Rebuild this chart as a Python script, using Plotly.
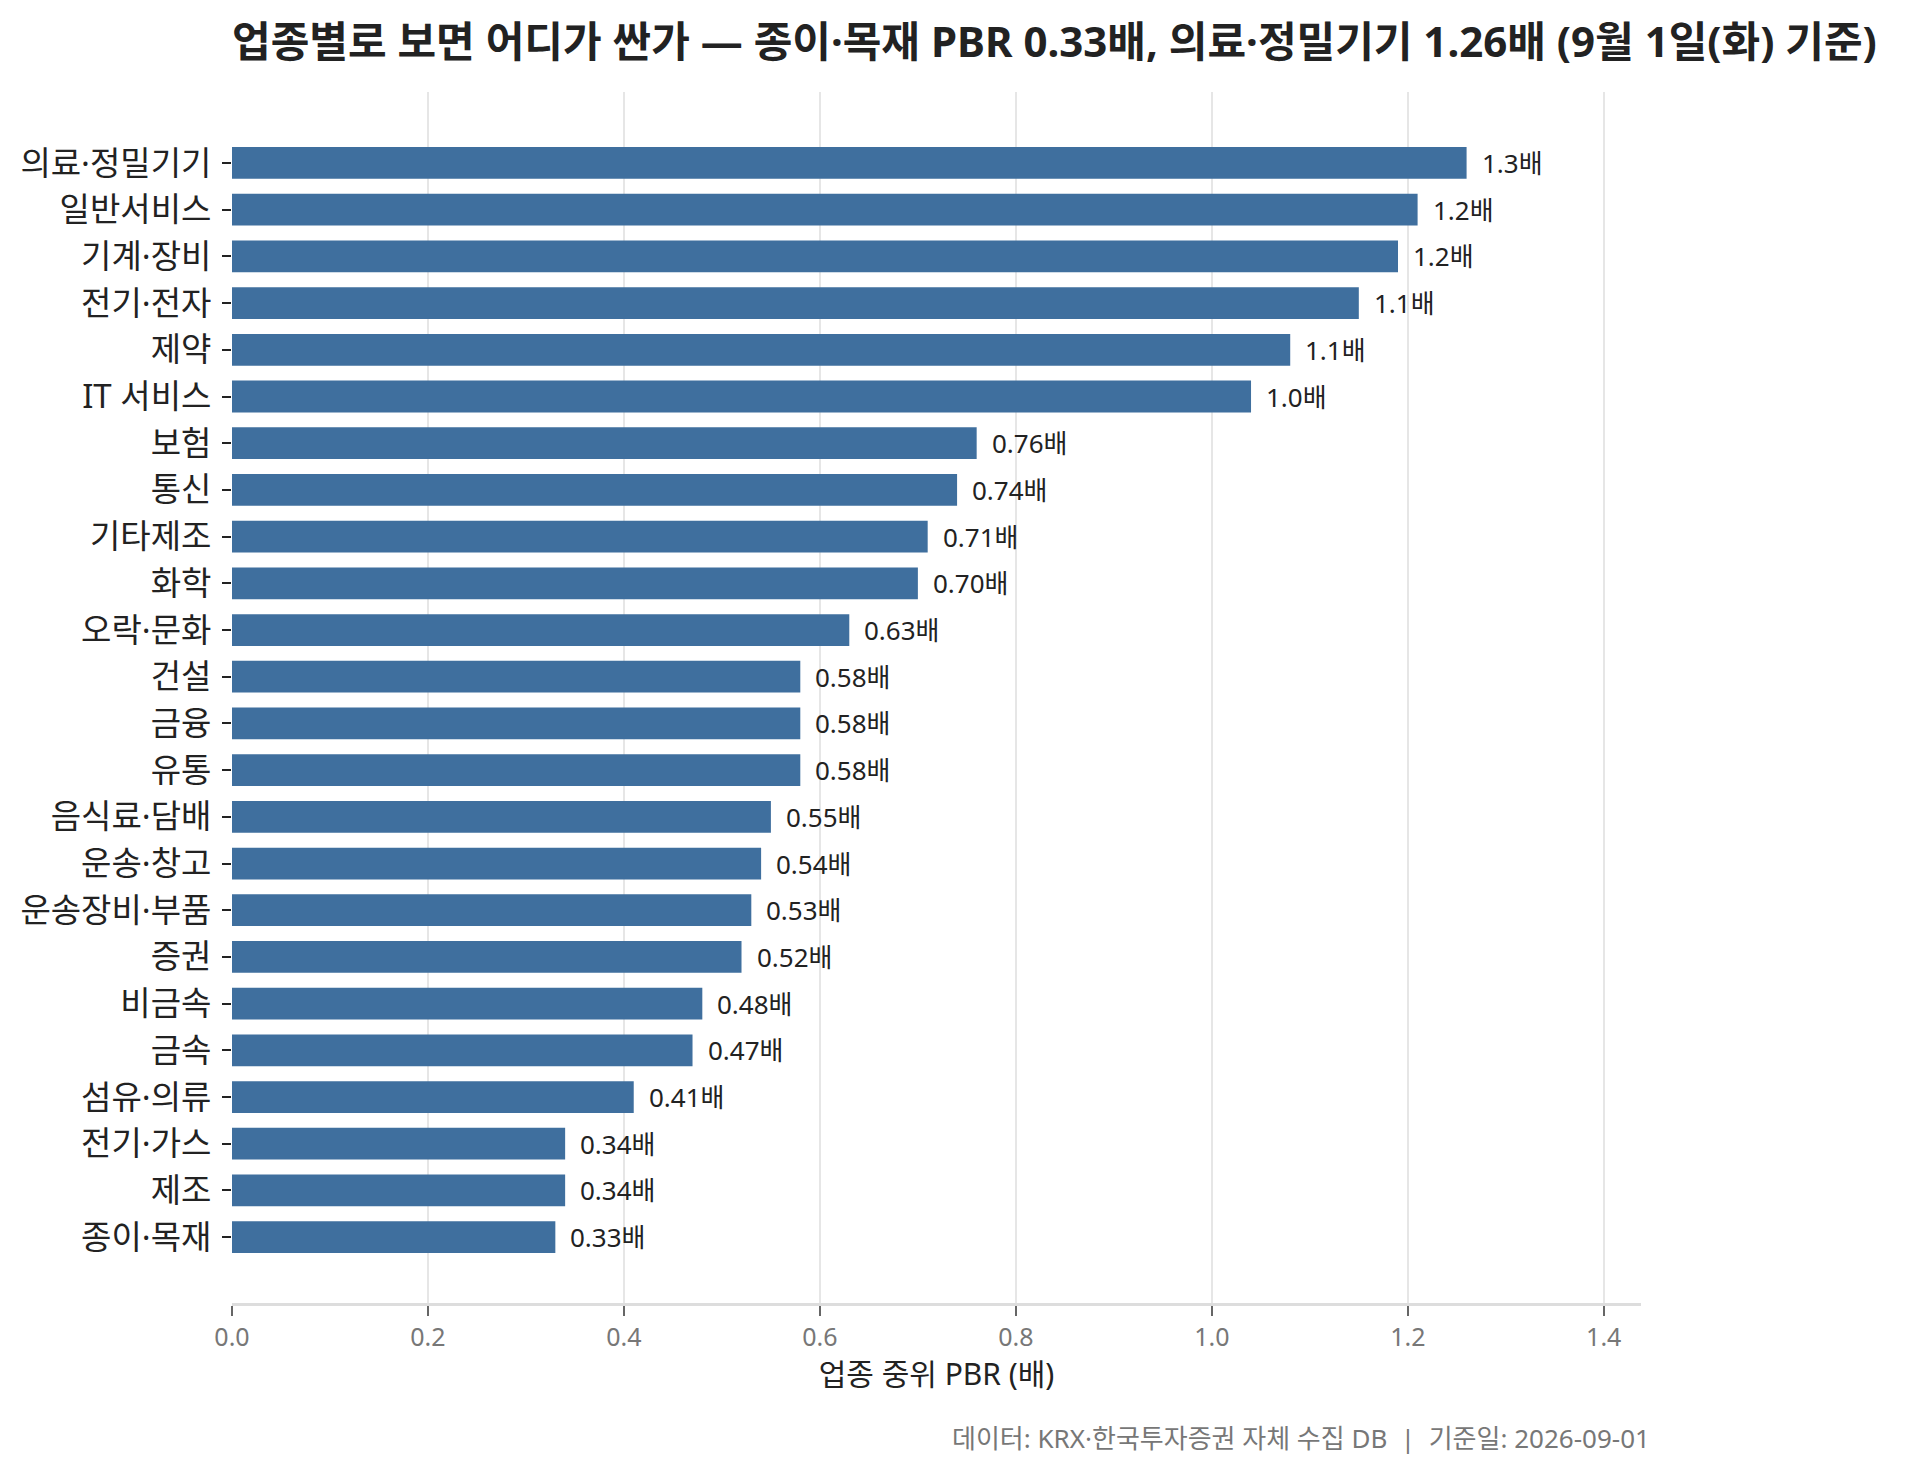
import plotly.graph_objects as go

categories = ["의료·정밀기기", "일반서비스", "기계·장비", "전기·전자", "제약", "IT 서비스",
              "보험", "통신", "기타제조", "화학", "오락·문화", "건설", "금융", "유통",
              "음식료·담배", "운송·창고", "운송장비·부품", "증권", "비금속", "금속",
              "섬유·의류", "전기·가스", "제조", "종이·목재"]
pbr = [1.26, 1.21, 1.19, 1.15, 1.08, 1.04, 0.76, 0.74, 0.71, 0.70, 0.63, 0.58, 0.58, 0.58,
       0.55, 0.54, 0.53, 0.52, 0.48, 0.47, 0.41, 0.34, 0.34, 0.33]
x_ticks = [0.0, 0.2, 0.4, 0.6, 0.8, 1.0, 1.2, 1.4]

labels = [(f"{v:.1f}배" if v >= 1 else f"{v:.2f}배") for v in pbr]

FONT = "Noto Sans, Noto Sans CJK KR, sans-serif"
W, H = 1917, 1471
L, R, T, B = 232, 1917 - 1641, 92, 1471 - 1303

fig = go.Figure()
fig.add_trace(go.Bar(
    x=pbr, y=categories, orientation="h",
    marker=dict(color="#3f6f9e", line=dict(width=0)),
    hoverinfo="skip",
))

for v, c, t in zip(pbr, categories, labels):
    fig.add_annotation(x=v, y=c, text=t, xref="x", yref="y", showarrow=False,
                       xanchor="left", yanchor="middle", xshift=13,
                       font=dict(family=FONT, size=26, color="#222222"))

fig.add_annotation(
    text="데이터: KRX·한국투자증권 자체 수집 DB  |  기준일: 2026-09-01",
    xref="paper", yref="paper", x=1, y=-(1438 - 1303) / (1303 - 92),
    xanchor="right", yanchor="middle", xshift=11, showarrow=False,
    font=dict(family=FONT, size=26, color="#777777"))

fig.update_layout(
    width=W, height=H,
    margin=dict(l=L, r=R, t=T, b=B, autoexpand=False),
    paper_bgcolor="white", plot_bgcolor="white",
    bargap=0.32, showlegend=False,
    font=dict(family=FONT, color="#222222"),
    title=dict(
        text="<b>업종별로 보면 어디가 싼가 — 종이·목재 PBR 0.33배, 의료·정밀기기 1.26배 (9월 1일(화) 기준)</b>",
        x=L / W, xanchor="left", xref="container",
        y=1 - 42 / H, yanchor="middle", yref="container",
        font=dict(family=FONT, size=42, color="#222222")),
    xaxis=dict(
        range=[0, 1.438], tickvals=x_ticks, tickformat=".1f",
        showgrid=True, gridcolor="#e6e6e6", gridwidth=1.5,
        zeroline=False, showline=True, linecolor="#dddddd", linewidth=2.5,
        ticks="outside", ticklen=10, tickwidth=1.5, tickcolor="#666666",
        tickfont=dict(family=FONT, size=25, color="#777777"),
        title=dict(text="업종 중위 PBR (배)", standoff=8,
                   font=dict(family=FONT, size=30, color="#222222")),
    ),
    yaxis=dict(
        type="category", categoryorder="array", categoryarray=categories,
        range=[24.41, -1.52], showgrid=False, zeroline=False, showline=False,
        ticks="outside", ticklen=9, tickwidth=1.5, tickcolor="#222222",
        ticklabelstandoff=4,
        tickfont=dict(family=FONT, size=33, color="#222222"),
    ),
)

fig.write_html("out.html", config={"displayModeBar": False},
               post_script="document.body.style.margin='0';")
